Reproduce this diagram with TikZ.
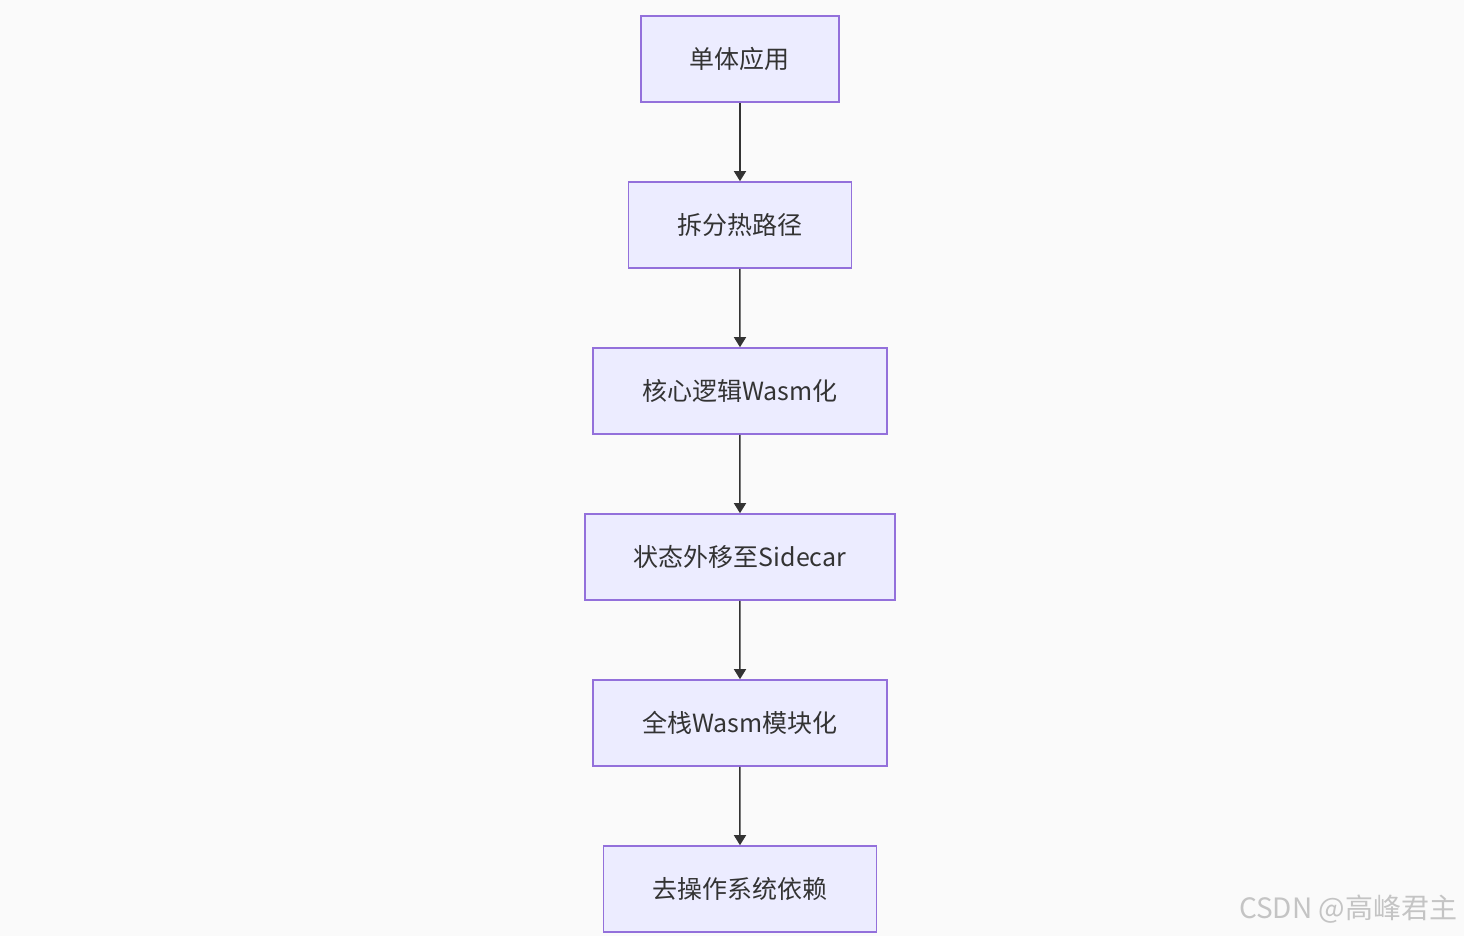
\documentclass[tikz,border=0pt]{standalone}
\usepackage{fontspec}
\setmainfont{Noto Sans CJK SC}
\usepackage{tikz}
\usetikzlibrary{trees,arrows.meta}
\definecolor{boxfill}{HTML}{ECECFF}
\definecolor{boxline}{HTML}{9370DB}
\definecolor{textdark}{HTML}{333333}
\definecolor{pagebg}{HTML}{FAFAFA}
\definecolor{markgray}{HTML}{C4C4C4}

\begin{document}
\begin{tikzpicture}[x=1pt,y=1pt,level distance=83pt,
                        every node/.style={draw=boxline,fill=boxfill,line width=0.8pt,
                            text=textdark,font=\fontsize{12.5}{15}\selectfont,
                            inner xsep=24.5pt,minimum height=43pt},
                        edge from parent/.style={draw=textdark,line width=0.75pt,
                            -{Triangle[width=6pt,length=5pt]}}]
                        \fill[pagebg] (-370,29.5) rectangle (362,-438.5);
                        \useasboundingbox (-370,29.5) rectangle (362,-438.5);
                        \node (mono) {单体应用}
                                child {node (split) {拆分热路径}
                                child {node (core) {核心逻辑Wasm化}
                                child {node (state) {状态外移至Sidecar}
                                child {node (full) {全栈Wasm模块化}
                                child {node (noos) {去操作系统依赖}}
                                }
                                }
                                }
                            };
                        \node[draw=none,fill=none,text=markgray,inner sep=0pt,minimum height=0pt,
                            font=\fontsize{14}{16}\selectfont,anchor=east] (mark) at (359,-425) {CSDN @高峰君主};
                    \end{tikzpicture}
\end{document}
